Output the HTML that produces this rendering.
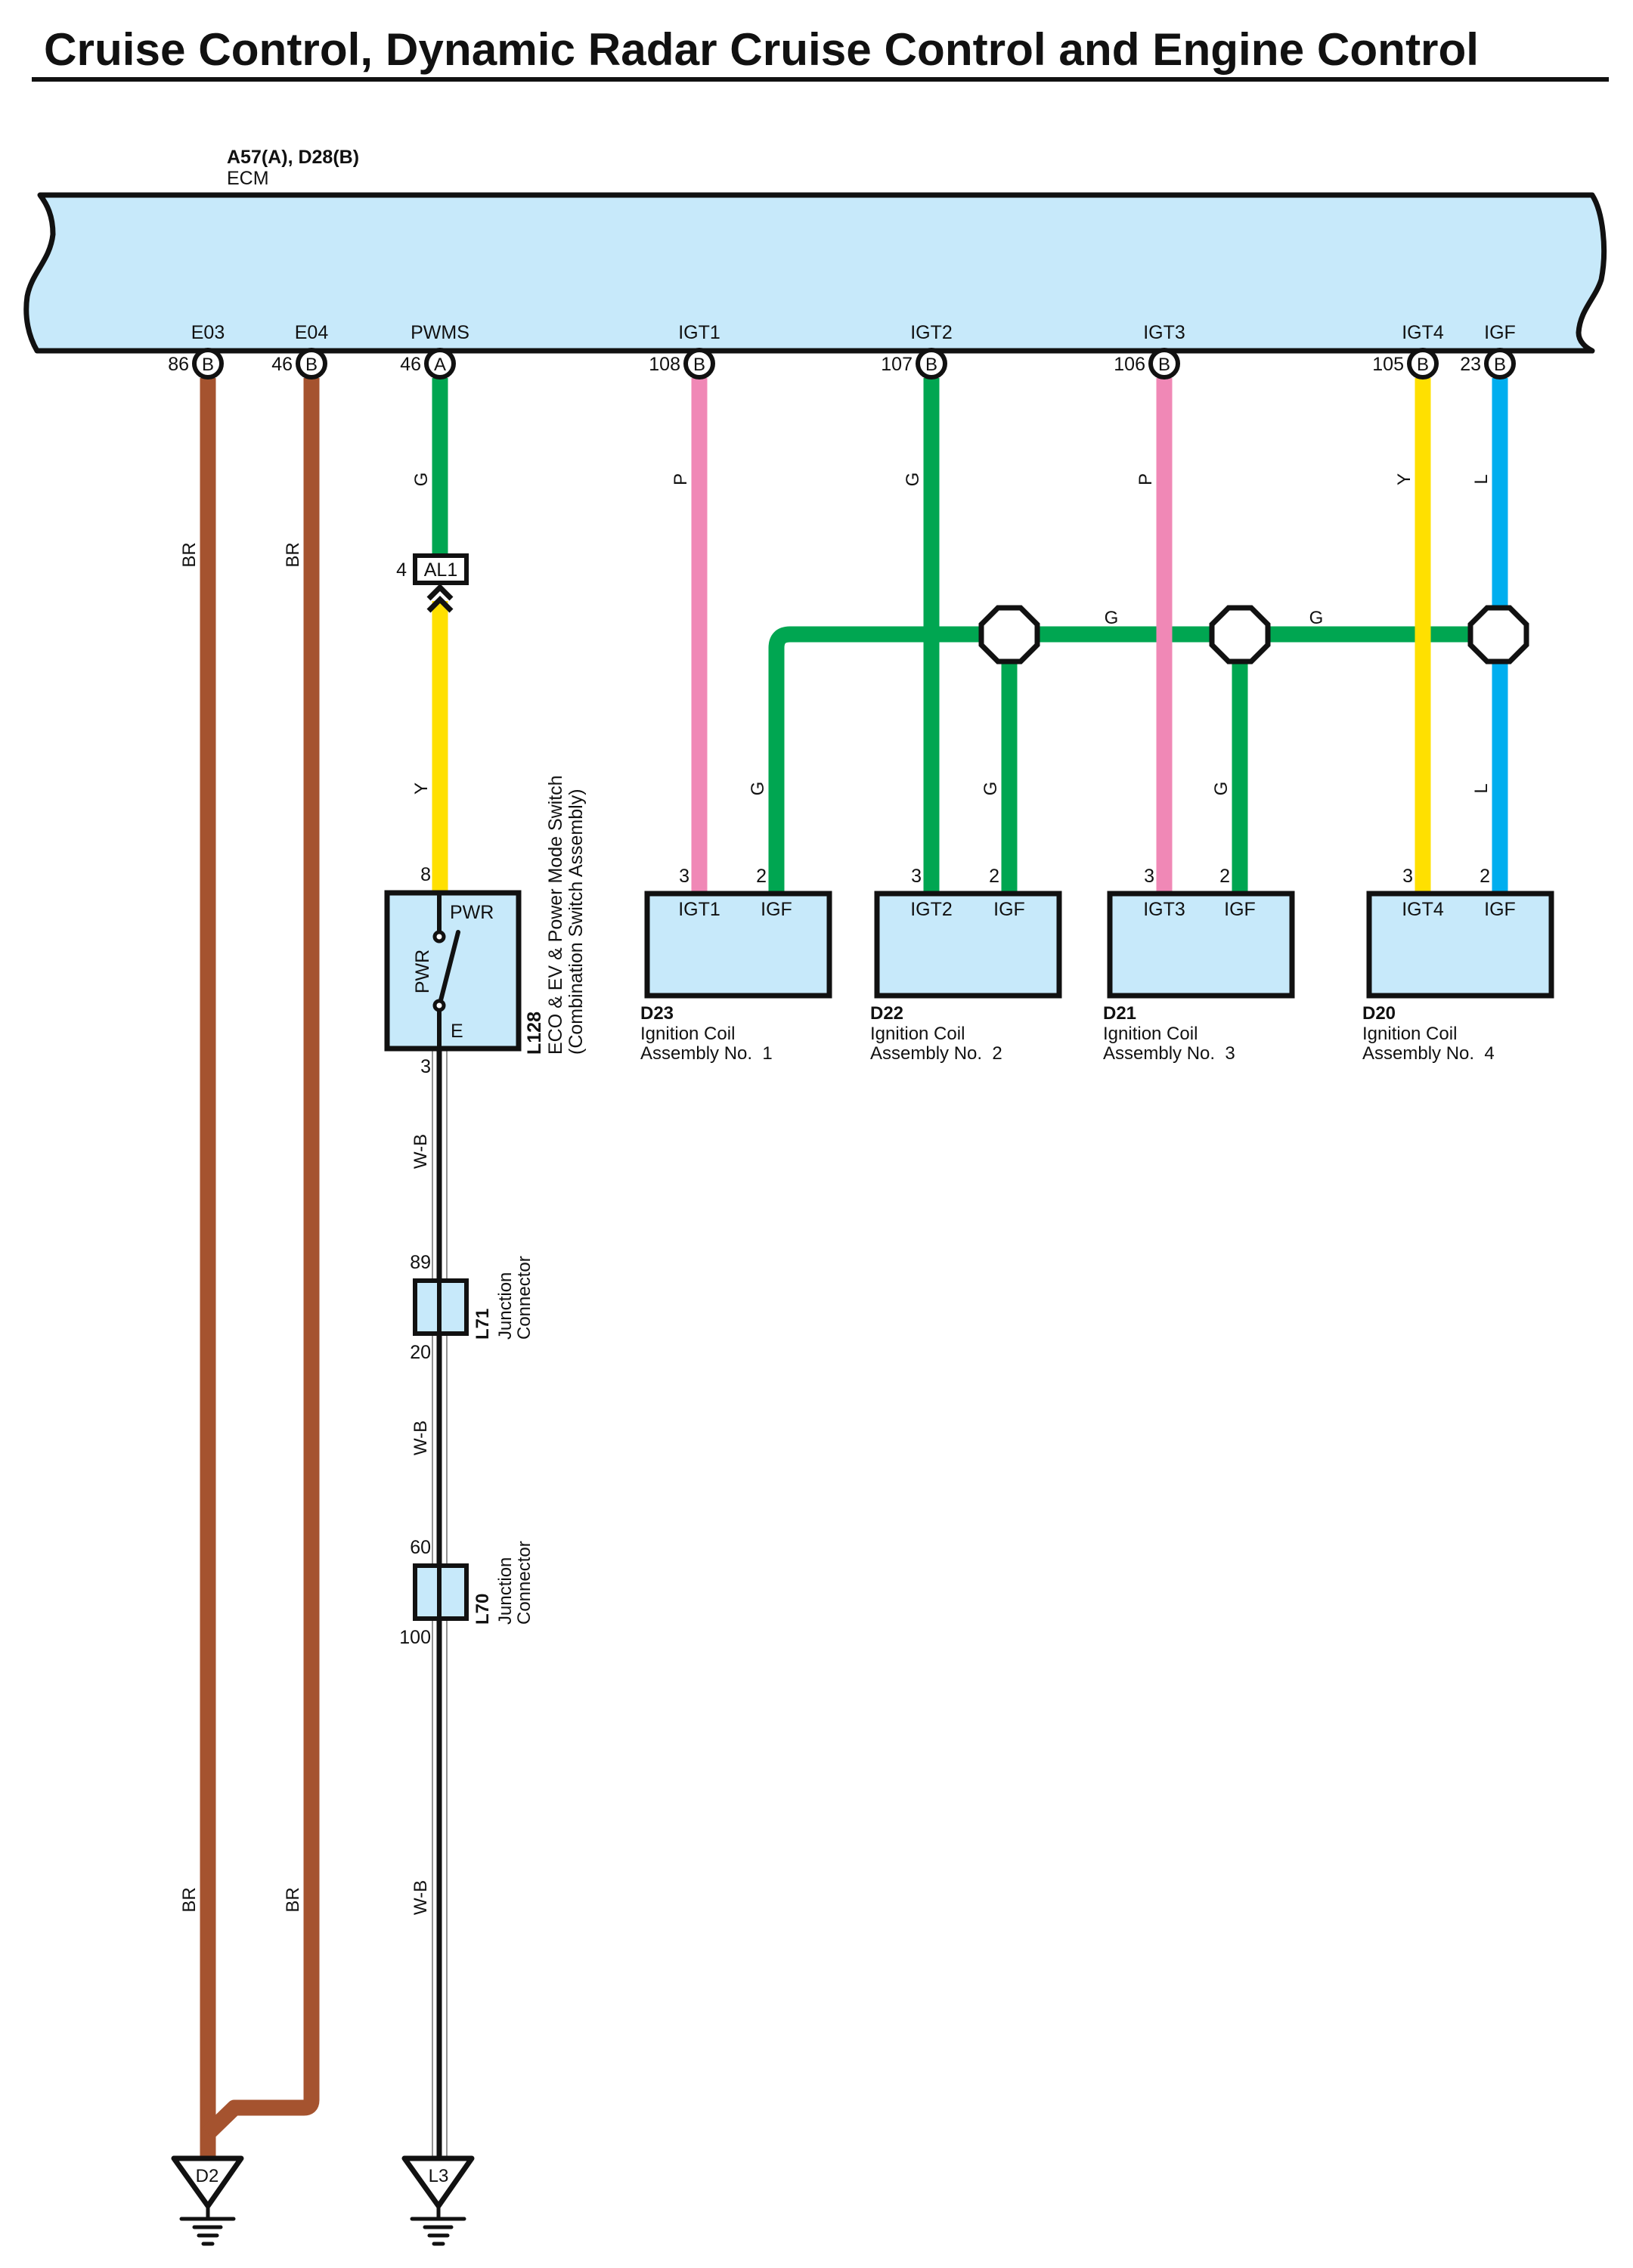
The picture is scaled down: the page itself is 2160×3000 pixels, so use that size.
<!DOCTYPE html>
<html><head><meta charset="utf-8"><style>
html,body{margin:0;padding:0;background:#fff}
svg{display:block}
text{font-family:"Liberation Sans",sans-serif;fill:#111}
</style></head><body>
<svg width="2160" height="3000" viewBox="0 0 2160 3000" xmlns="http://www.w3.org/2000/svg">
<!-- title -->
<text x="58" y="86" font-size="60" font-weight="bold" textLength="1898" lengthAdjust="spacingAndGlyphs">Cruise Control, Dynamic Radar Cruise Control and Engine Control</text>
<rect x="42" y="102" width="2086" height="6" fill="#111"/>

<!-- ECM -->
<text x="300" y="216" font-size="25" font-weight="bold">A57(A), D28(B)</text>
<text x="300" y="244" font-size="25">ECM</text>
<path d="M53,258 H2106 C2120,280 2126,330 2118,370 C2110,395 2090,410 2088,440 C2088,452 2098,460 2106,464 H49 C38,445 32,420 36,392 C42,360 66,345 70,310 C70,285 62,270 53,258 Z" fill="#c7e9fa" stroke="#111" stroke-width="7" stroke-linejoin="round"/>

<!-- bus -->
<g fill="none" stroke="#00a651" stroke-width="21">
<path d="M1027,1181 V857 Q1027,839 1045,839 H1982"/>
<path d="M1335,839 V1181"/>
<path d="M1640,839 V1181"/>
<path d="M582,500 V734"/>
</g>
<!-- verticals -->
<g fill="none" stroke-width="21">
<path d="M275,500 V2855" stroke="#a5532f"/>
<path d="M412,500 V2778 Q412,2788 402,2788 H310 L275,2822" stroke="#a5532f" stroke-linejoin="round"/>
<path d="M925,500 V1181" stroke="#f088b6"/>
<path d="M1232,500 V1181" stroke="#00a651"/>
<path d="M1540,500 V1181" stroke="#f088b6"/>
<path d="M1882,500 V1181" stroke="#ffe000"/>
<path d="M1984,500 V1181" stroke="#00aeef"/>
<path d="M582,795 V1181" stroke="#ffe000"/>
</g>

<!-- W-B wire -->
<g>
<line x1="572" y1="1388" x2="572" y2="2855" stroke="#777" stroke-width="1.6"/>
<line x1="591" y1="1388" x2="591" y2="2855" stroke="#777" stroke-width="1.6"/>
<line x1="581" y1="1388" x2="581" y2="2855" stroke="#111" stroke-width="7"/>
</g>

<!-- octagons -->
<g fill="#fff" stroke="#111" stroke-width="7">
<polygon points="1320,804 1350,804 1372,826 1372,853 1350,875 1320,875 1298,853 1298,826" />
<polygon points="1625,804 1655,804 1677,826 1677,853 1655,875 1625,875 1603,853 1603,826" />
<polygon points="1967,804 1997,804 2019,826 2019,853 1997,875 1967,875 1945,853 1945,826" />
</g>

<!-- pins -->
<g fill="#fff" stroke="#111" stroke-width="6">
<circle cx="275" cy="481" r="18"/><circle cx="412" cy="481" r="18"/><circle cx="582" cy="481" r="18"/>
<circle cx="925" cy="481" r="18"/><circle cx="1232" cy="481" r="18"/><circle cx="1540" cy="481" r="18"/>
<circle cx="1882" cy="481" r="18"/><circle cx="1984" cy="481" r="18"/>
</g>
<g font-size="24" text-anchor="middle">
<text x="275" y="490">B</text><text x="412" y="490">B</text><text x="582" y="490">A</text>
<text x="925" y="490">B</text><text x="1232" y="490">B</text><text x="1540" y="490">B</text>
<text x="1882" y="490">B</text><text x="1984" y="490">B</text>
</g>
<g font-size="25" text-anchor="middle">
<text x="275" y="448">E03</text><text x="412" y="448">E04</text><text x="582" y="448">PWMS</text>
<text x="925" y="448">IGT1</text><text x="1232" y="448">IGT2</text><text x="1540" y="448">IGT3</text>
<text x="1882" y="448">IGT4</text><text x="1984" y="448">IGF</text>
</g>
<g font-size="25" text-anchor="end">
<text x="250" y="490">86</text><text x="387" y="490">46</text><text x="557" y="490">46</text>
<text x="900" y="490">108</text><text x="1207" y="490">107</text><text x="1515" y="490">106</text>
<text x="1857" y="490">105</text><text x="1959" y="490">23</text>
</g>

<!-- wire color labels -->
<g font-size="24" text-anchor="middle">
<text transform="translate(258,734) rotate(-90)">BR</text>
<text transform="translate(395,734) rotate(-90)">BR</text>
<text transform="translate(258,2513) rotate(-90)">BR</text>
<text transform="translate(395,2513) rotate(-90)">BR</text>
<text transform="translate(565,634) rotate(-90)">G</text>
<text transform="translate(565,1043) rotate(-90)">Y</text>
<text transform="translate(908,634) rotate(-90)">P</text>
<text transform="translate(1215,634) rotate(-90)">G</text>
<text transform="translate(1523,634) rotate(-90)">P</text>
<text transform="translate(1865,634) rotate(-90)">Y</text>
<text transform="translate(1967,634) rotate(-90)">L</text>
<text transform="translate(1010,1043) rotate(-90)">G</text>
<text transform="translate(1318,1043) rotate(-90)">G</text>
<text transform="translate(1623,1043) rotate(-90)">G</text>
<text transform="translate(1967,1043) rotate(-90)">L</text>
<text transform="translate(564,1523) rotate(-90)">W-B</text>
<text transform="translate(564,1902) rotate(-90)">W-B</text>
<text transform="translate(564,2510) rotate(-90)">W-B</text>
<text x="1470" y="825">G</text>
<text x="1741" y="825">G</text>
</g>

<!-- AL1 connector -->
<rect x="549" y="735" width="68" height="36" fill="#fff" stroke="#111" stroke-width="6"/>
<text x="583" y="762" font-size="25" text-anchor="middle">AL1</text>
<text x="538" y="762" font-size="25" text-anchor="end">4</text>
<g fill="none" stroke="#111" stroke-width="7">
<path d="M567,792 L582,777 L597,792"/>
<path d="M567,808 L582,793 L597,808"/>
</g>

<!-- coils -->
<g fill="#c7e9fa" stroke="#111" stroke-width="7">
<rect x="856" y="1182" width="241" height="135"/>
<rect x="1160" y="1182" width="241" height="135"/>
<rect x="1468" y="1182" width="241" height="135"/>
<rect x="1811" y="1182" width="241" height="135"/>
</g>
<g font-size="25" text-anchor="middle">
<text x="925" y="1211">IGT1</text><text x="1027" y="1211">IGF</text>
<text x="1232" y="1211">IGT2</text><text x="1335" y="1211">IGF</text>
<text x="1540" y="1211">IGT3</text><text x="1640" y="1211">IGF</text>
<text x="1882" y="1211">IGT4</text><text x="1984" y="1211">IGF</text>
</g>
<g font-size="25" text-anchor="end">
<text x="912" y="1167">3</text><text x="1014" y="1167">2</text>
<text x="1219" y="1167">3</text><text x="1322" y="1167">2</text>
<text x="1527" y="1167">3</text><text x="1627" y="1167">2</text>
<text x="1869" y="1167">3</text><text x="1971" y="1167">2</text>
</g>
<g font-size="24">
<text x="847" y="1348" font-weight="bold">D23</text><text x="847" y="1375">Ignition Coil</text><text x="847" y="1401" xml:space="preserve">Assembly No.  1</text>
<text x="1151" y="1348" font-weight="bold">D22</text><text x="1151" y="1375">Ignition Coil</text><text x="1151" y="1401" xml:space="preserve">Assembly No.  2</text>
<text x="1459" y="1348" font-weight="bold">D21</text><text x="1459" y="1375">Ignition Coil</text><text x="1459" y="1401" xml:space="preserve">Assembly No.  3</text>
<text x="1802" y="1348" font-weight="bold">D20</text><text x="1802" y="1375">Ignition Coil</text><text x="1802" y="1401" xml:space="preserve">Assembly No.  4</text>
</g>

<!-- switch L128 -->
<rect x="512" y="1181" width="174" height="206" fill="#c7e9fa" stroke="#111" stroke-width="7"/>
<line x1="581" y1="1181" x2="581" y2="1233" stroke="#111" stroke-width="6"/>
<line x1="581" y1="1336" x2="581" y2="1388" stroke="#111" stroke-width="6"/>
<line x1="582" y1="1327" x2="606" y2="1233" stroke="#111" stroke-width="6" stroke-linecap="round"/>
<circle cx="581" cy="1239" r="6" fill="#fff" stroke="#111" stroke-width="5"/>
<circle cx="581" cy="1330" r="6" fill="#fff" stroke="#111" stroke-width="5"/>
<text x="595" y="1215" font-size="25">PWR</text>
<text x="596" y="1372" font-size="25">E</text>
<text transform="translate(567,1285) rotate(-90)" font-size="25" text-anchor="middle">PWR</text>
<text x="570" y="1165" font-size="25" text-anchor="end">8</text>
<text x="570" y="1419" font-size="25" text-anchor="end">3</text>
<text transform="translate(715,1395) rotate(-90)" font-size="25" font-weight="bold">L128</text>
<text transform="translate(743,1395) rotate(-90)" font-size="25">ECO &amp; EV &amp; Power Mode Switch</text>
<text transform="translate(770,1395) rotate(-90)" font-size="25">(Combination Switch Assembly)</text>

<!-- junction connectors -->
<g fill="#c7e9fa" stroke="#111" stroke-width="6">
<rect x="549" y="1694" width="68" height="70"/>
<rect x="549" y="2071" width="68" height="70"/>
</g>
<line x1="581" y1="1694" x2="581" y2="1764" stroke="#111" stroke-width="6"/>
<line x1="581" y1="2071" x2="581" y2="2141" stroke="#111" stroke-width="6"/>
<g font-size="25" text-anchor="end">
<text x="570" y="1678">89</text><text x="570" y="1797">20</text>
<text x="570" y="2055">60</text><text x="570" y="2174">100</text>
</g>
<g font-size="24">
<text transform="translate(646,1772) rotate(-90)" font-weight="bold">L71</text>
<text transform="translate(676,1772) rotate(-90)">Junction</text>
<text transform="translate(701,1772) rotate(-90)">Connector</text>
<text transform="translate(646,2149) rotate(-90)" font-weight="bold">L70</text>
<text transform="translate(676,2149) rotate(-90)">Junction</text>
<text transform="translate(701,2149) rotate(-90)">Connector</text>
</g>

<!-- grounds -->
<g stroke="#111" stroke-width="7" fill="#fff" stroke-linejoin="round">
<polygon points="230,2855 319,2855 275,2918"/>
<polygon points="535,2855 624,2855 580,2918"/>
</g>
<g stroke="#111" stroke-width="5" stroke-linecap="round">
<line x1="275" y1="2918" x2="275" y2="2935"/>
<line x1="240" y1="2935" x2="309" y2="2935"/>
<line x1="257" y1="2946" x2="292" y2="2946"/>
<line x1="263" y1="2957" x2="287" y2="2957"/>
<line x1="269" y1="2968" x2="281" y2="2968"/>
<line x1="580" y1="2918" x2="580" y2="2935"/>
<line x1="545" y1="2935" x2="614" y2="2935"/>
<line x1="562" y1="2946" x2="597" y2="2946"/>
<line x1="568" y1="2957" x2="592" y2="2957"/>
<line x1="574" y1="2968" x2="586" y2="2968"/>
</g>
<text x="274" y="2886" font-size="24" text-anchor="middle">D2</text>
<text x="580" y="2886" font-size="24" text-anchor="middle">L3</text>
</svg>
</body></html>
